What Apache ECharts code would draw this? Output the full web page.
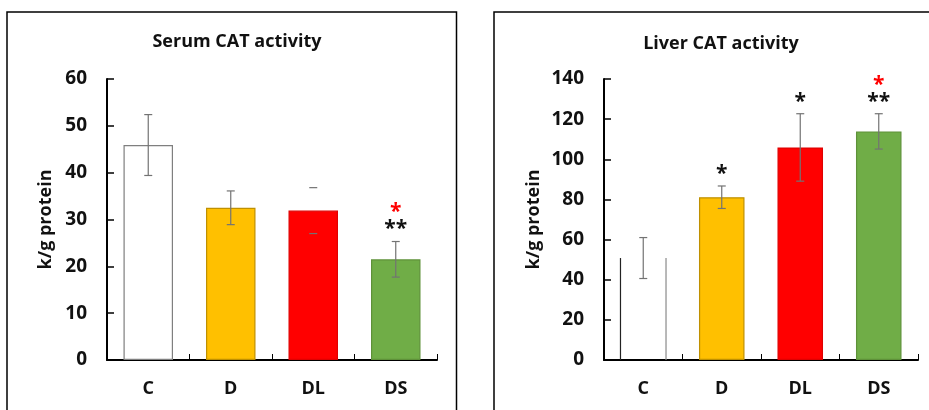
<!DOCTYPE html>
<html>
<head>
<meta charset="utf-8">
<title>CAT activity</title>
<script src="https://cdn.jsdelivr.net/npm/echarts@6/dist/echarts.min.js"></script>
<style>
  html, body { margin: 0; padding: 0; background: #fff; }
  #chart { width: 929px; height: 410px; }
</style>
</head>
<body>
<div id="chart"></div>
<script>
// groups and values
var groups = ['C', 'D', 'DL', 'DS'];

var serumMean = [45.9, 32.5, 31.9, 21.5];
var serumErr = [6.5, 3.6, 4.9, 3.8];
var serumStars = ['', '', '', '**'];
var serumRedStars = ['', '', '', '*'];

var liverMean = [50.8, 81.1, 105.9, 113.9];
var liverErr = [10.2, 5.6, 16.8, 8.8];
var liverStars = ['', '*', '*', '**'];
var liverRedStars = ['', '', '', '*'];

var serumMax = 60, serumStep = 10;
var liverMax = 140, liverStep = 20;

var barColors = ['#FFFFFF', '#FFC000', '#FF0000', '#70AD47'];
var barBorders = ['#7F7F7F', '#BF9000', '#E00000', '#5E9139'];

var FONT = '"Open Sans", "Noto Sans", sans-serif';

var myChart = echarts.init(document.getElementById('chart'));

function barData(means, cHollow) {
  return means.map(function (v, i) {
    var item = {
      value: v,
      itemStyle: { color: barColors[i], borderColor: barBorders[i], borderWidth: 1.2 }
    };
    if (i === 0 && cHollow) {
      // control bar of the liver panel: only the two sides are drawn
      item.itemStyle = { color: 'rgba(0,0,0,0)', borderWidth: 0 };
    }
    return item;
  });
}

function errRender(means, errs, stars, redStars, capsOnly, outlineC) {
  return function (params, api) {
    var i = api.value(0);
    var m = means[i], e = errs[i];
    var top = api.coord([i, m + e]);
    var bot = api.coord([i, m - e]);
    var cap = 4;
    var style = { stroke: '#737373', lineWidth: 1.2 };
    var children = [
      { type: 'line', shape: { x1: top[0] - cap, y1: top[1], x2: top[0] + cap, y2: top[1] }, style: style },
      { type: 'line', shape: { x1: bot[0] - cap, y1: bot[1], x2: bot[0] + cap, y2: bot[1] }, style: style }
    ];
    if (capsOnly.indexOf(i) < 0) {
      children.push({ type: 'line', shape: { x1: top[0], y1: top[1], x2: bot[0], y2: bot[1] }, style: style });
    }
    if (outlineC && i === 0) {
      var p0 = api.coord([i, 0]);
      var p1 = api.coord([i, m]);
      var half = api.size([1, 0])[0] * 0.58 / 2;
      children.push({ type: 'line', shape: { x1: p0[0] - half, y1: p0[1], x2: p1[0] - half, y2: p1[1] }, style: { stroke: '#222', lineWidth: 1.2 } });
      children.push({ type: 'line', shape: { x1: p0[0] + half, y1: p0[1], x2: p1[0] + half, y2: p1[1] }, style: { stroke: '#8a8a8a', lineWidth: 1.2 } });
    }
    if (stars[i]) {
      children.push({
        type: 'text',
        style: { text: stars[i], x: top[0], y: top[1] - 12, align: 'center', verticalAlign: 'middle',
          fill: '#111', font: 'bold 21px ' + FONT }
      });
    }
    if (redStars[i]) {
      children.push({
        type: 'text',
        style: { text: redStars[i], x: top[0], y: top[1] - 29, align: 'center', verticalAlign: 'middle',
          fill: '#FF0000', font: 'bold 21px ' + FONT }
      });
    }
    return { type: 'group', children: children };
  };
}

function yAxis(idx, max, step, gap) {
  return {
    type: 'value', gridIndex: idx, min: 0, max: max, interval: step,
    name: 'k/g protein', nameLocation: 'middle', nameGap: gap, nameRotate: 90,
    nameTextStyle: { color: '#111', fontSize: 18, fontWeight: 'bold', fontFamily: FONT },
    axisLine: { show: true, lineStyle: { color: '#000', width: 2 } },
    axisTick: { show: true, inside: true, length: 7, lineStyle: { color: '#000', width: 1.5 } },
    axisLabel: { margin: 20, color: '#111', fontSize: 19, fontWeight: 'bold', fontFamily: FONT },
    splitLine: { show: false }
  };
}

function xAxis(idx) {
  return {
    type: 'category', gridIndex: idx, data: groups,
    axisLine: { lineStyle: { color: '#000', width: 2 } },
    axisTick: { show: true, inside: true, length: 6, lineStyle: { color: '#000', width: 1 } },
    axisLabel: { margin: 20, color: '#111', fontSize: 18, fontWeight: 'bold', fontFamily: FONT }
  };
}

var option = {
  animation: false,
  backgroundColor: '#fff',
  title: [
    { text: 'Serum CAT activity', left: 232, top: 28, textAlign: 'center',
      textStyle: { fontSize: 18, fontWeight: 'bold', color: '#111', fontFamily: FONT } },
    { text: 'Liver CAT activity', left: 716, top: 30, textAlign: 'center',
      textStyle: { fontSize: 18, fontWeight: 'bold', color: '#111', fontFamily: FONT } }
  ],
  graphic: [
    { type: 'rect', shape: { x: 7, y: 12, width: 449.5, height: 410 },
      style: { fill: 'none', stroke: '#000', lineWidth: 1.5 }, silent: true },
    { type: 'rect', shape: { x: 494, y: 12, width: 450, height: 410 },
      style: { fill: 'none', stroke: '#000', lineWidth: 1.5 }, silent: true }
  ],
  grid: [
    { left: 107, right: 492, top: 79, bottom: 50 },
    { left: 604, right: 11, top: 79, bottom: 50 }
  ],
  xAxis: [xAxis(0), xAxis(1)],
  yAxis: [yAxis(0, serumMax, serumStep, 52), yAxis(1, liverMax, liverStep, 61)],
  series: [
    { type: 'bar', xAxisIndex: 0, yAxisIndex: 0, barWidth: '60%', data: barData(serumMean, false) },
    { type: 'custom', xAxisIndex: 0, yAxisIndex: 0, z: 5,
      renderItem: errRender(serumMean, serumErr, serumStars, serumRedStars, [2], false),
      data: groups.map(function (g, i) { return [i, serumMean[i]]; }) },
    { type: 'bar', xAxisIndex: 1, yAxisIndex: 1, barWidth: '58%', data: barData(liverMean, true) },
    { type: 'custom', xAxisIndex: 1, yAxisIndex: 1, z: 5,
      renderItem: errRender(liverMean, liverErr, liverStars, liverRedStars, [], true),
      data: groups.map(function (g, i) { return [i, liverMean[i]]; }) }
  ]
};

myChart.setOption(option);
</script>
</body>
</html>
